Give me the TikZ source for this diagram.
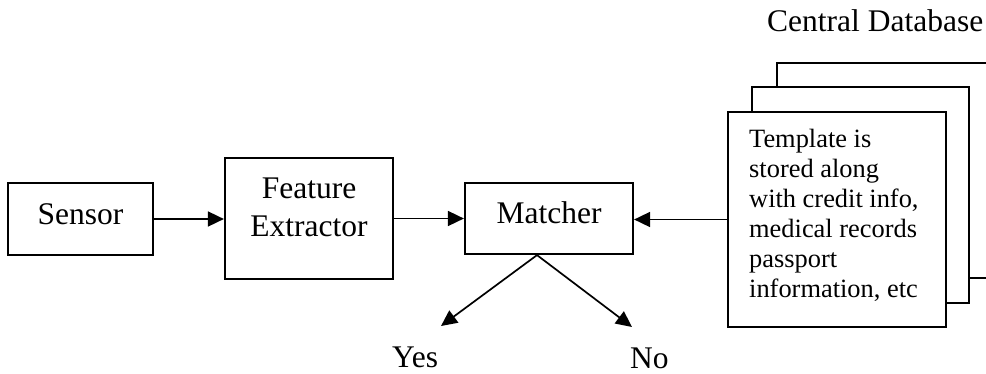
\documentclass[tikz,border=0pt]{standalone}
\usepackage{fontspec}
\setmainfont{Liberation Serif}
\usetikzlibrary{arrows.meta}
\begin{document}
\begin{tikzpicture}[x=1pt,y=-1pt,
  txt/.style={inner sep=0pt, font=\fontsize{31.5}{38}\selectfont},
  box/.style={draw, line width=2.2pt, inner sep=0pt, font=\fontsize{31.5}{38}\selectfont},
  onerow/.style={text height=21pt, text depth=11pt},
  dbbox/.style={draw, fill=white, line width=2.2pt, inner sep=0pt},
  dbtxt/.style={inner sep=0pt, align=left, font=\fontsize{26.4}{30}\selectfont},
  flow/.style={line width=1.7pt, -{Triangle[length=16pt,width=15pt]}}
]
\useasboundingbox (0,0) rectangle (986,373);
\clip (0,0) rectangle (986,373);

% processing chain
\node[box, onerow, minimum width=145pt, minimum height=72pt] (sensor) at (80.5,219) {Sensor};
\node[box, minimum width=168pt, minimum height=121pt] (fe) at (309,218.5) {};
\node[txt, anchor=north, align=center] (fetext) at (309,178) {Feature\\Extractor};
\node[box, onerow, minimum width=168pt, minimum height=71pt] (matcher) at (549,218.5) {Matcher};

% central database: a stack of three records
\node[txt, anchor=base west] (dbtitle) at (767,31) {Central Database};
\node[dbbox, minimum width=223pt, minimum height=215pt] (dbback) at (888.5,170.5) {};
\node[dbbox, minimum width=217pt, minimum height=216pt] (dbmid) at (860.5,195) {};
\node[dbbox, minimum width=218pt, minimum height=215pt] (db) at (837,219.5) {};
\node[dbtxt, anchor=north west] (dbtext) at (749,129)
  {Template is\\stored along\\with credit info,\\medical records\\passport\\information, etc};

% connectors
\draw[flow] (sensor.east) -- (fe.west |- sensor.east);
\draw[flow] (fe.east) -- (matcher.west);
\draw[flow] (db.west) -- (matcher.east |- db.west);

% decision outcomes
\coordinate (fork) at ([xshift=-12pt]matcher.south);
\coordinate (yestip) at (441,326);
\coordinate (notip) at (632,327);
\draw[flow] (fork) -- (yestip);
\draw[flow] (fork) -- (notip);
\node[txt, anchor=base west] (yes) at (392,367) {Yes};
\node[txt, anchor=base west] (no) at (630,368) {No};
\end{tikzpicture}
\end{document}
